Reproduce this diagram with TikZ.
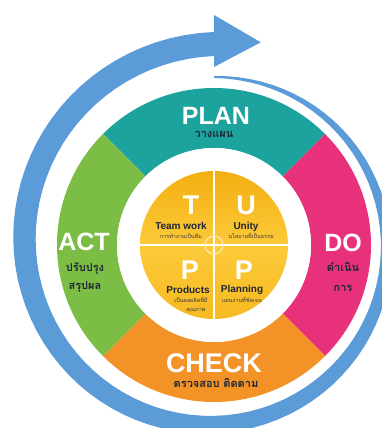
\documentclass[tikz,border=0pt]{standalone}
\usepackage{fontspec}
\setmainfont{Liberation Sans}
\newfontfamily\thai[Script=Thai]{Loma}

\definecolor{spiralblue}{HTML}{5A9BD8}
\definecolor{planteal}{HTML}{1DA39D}
\definecolor{dopink}{HTML}{E8317B}
\definecolor{checkorange}{HTML}{F39327}
\definecolor{actgreen}{HTML}{7CBD45}
\definecolor{tupdark}{HTML}{F3AF10}
\definecolor{tuplight}{HTML}{FCCA3A}
\definecolor{thaitext}{HTML}{1E2633}

\tikzset{
  stage/.style={text=white, font=\bfseries\fontsize{25}{28}\selectfont, inner sep=0pt},
  stagethai/.style={text=thaitext, font=\thai\bfseries\fontsize{11}{13}\selectfont, inner sep=0pt},
  letter/.style={text=white, font=\bfseries\fontsize{27}{30}\selectfont, inner sep=0pt},
  word/.style={text=thaitext, font=\bfseries\fontsize{10}{12}\selectfont, inner sep=0pt},
  wordthai/.style={text=thaitext!80!brown, font=\thai\fontsize{5.5}{6.5}\selectfont, inner sep=0pt}
}

\begin{document}
\begin{tikzpicture}[x=1pt, y=1pt]
    \useasboundingbox (0,0) rectangle (382,428);

    \begin{scope}[shift={(214,183)}]
        % Draw the blue spiral arrow
        \fill[spiralblue] plot[domain=0:360, samples=91]
            ({90-\x}:{168+33*\x/360*sqrt(\x/360)+1+11*sin(\x/4)})
            -- (90:230) -- (77:208) -- (90:178)
            -- plot[domain=360:0, samples=91]
            ({90-\x}:{168+33*\x/360*sqrt(\x/360)-1-11*sin(\x/4)}) -- cycle;

        % Draw the four coloured stages
        \foreach \a/\b/\c in {45/135/planteal, -45/45/dopink, -135/-45/checkorange, 135/225/actgreen}
            \fill[\c] (\a:157) arc[start angle=\a, end angle=\b, radius=157]
                -- (\b:97) arc[start angle=\b, end angle=\a, radius=97] -- cycle;

        % Draw the TUPP disc
        \fill[white] (0,0) circle (97);
        \shade[top color=tupdark, bottom color=tuplight] (-74,0) arc[start angle=180, end angle=0, radius=74] -- cycle;
        \shade[top color=tuplight, bottom color=tupdark!60!tuplight] (74,0) arc[start angle=0, end angle=-180, radius=74] -- cycle;
        \draw[white, line width=2pt] (-74,0) -- (74,0);
        \draw[white, line width=2pt] (0,-74) -- (0,74);
        \draw[white!60!tuplight, line width=1.2pt] (0,0) circle (9);
    \end{scope}

    % Stage labels
    \node[stage] (plan) at (216,312) {PLAN};
    \node[stagethai] (planthai) at (214,294) {วางแผน};
    \node[stage] (act) at (84,186) {ACT};
    \node[stagethai] (actthaia) at (85,160) {ปรับปรุง};
    \node[stagethai] (actthaib) at (85,141) {สรุปผล};
    \node[stage] (do) at (343,185) {DO};
    \node[stagethai] (dothaia) at (343,161) {ดำเนิน};
    \node[stagethai] (dothaib) at (343,140) {การ};
    \node[stage, font=\bfseries\fontsize{27}{30}\selectfont] (check) at (214,65) {CHECK};
    \node[stagethai] (checkthai) at (216,45) {ตรวจสอบ ติดตาม};

    % TUPP labels
    \node[letter] (t) at (191,223) {T};
    \node[word] (teamwork) at (181,202) {Team work};
    \node[wordthai] (teamworkthai) at (181,192) {การทำงานเป็นทีม};
    \node[letter] (u) at (246,223) {U};
    \node[word] (unity) at (246,201) {Unity};
    \node[wordthai] (unitythai) at (251,192) {นโยบายที่เป็นธรรม};
    \node[letter] (pa) at (190,158) {P};
    \node[word] (products) at (188,138) {Products};
    \node[wordthai] (productsthaia) at (191,128) {เป็นผลผลิตที่มี};
    \node[wordthai] (productsthaib) at (196,117) {คุณภาพ};
    \node[letter] (pb) at (244,158) {P};
    \node[word] (planning) at (242,138) {Planning};
    \node[wordthai] (planningthai) at (242,128) {แผนงานที่ชัดเจน};
\end{tikzpicture}
\end{document}
